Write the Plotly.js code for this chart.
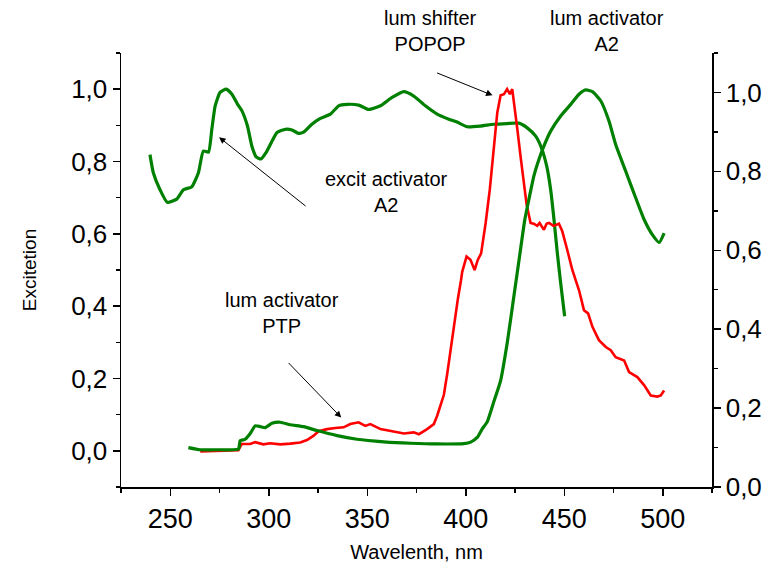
<!DOCTYPE html>
<html>
<head>
<meta charset="utf-8">
<script src="https://cdn.plot.ly/plotly-3.0.1.min.js"></script>
<style>html,body{margin:0;padding:0;background:#fff;}#chart{width:775px;height:570px;}</style>
</head>
<body>
<div id="chart"></div>
<script>
// Excitation spectrum of activator A2 (green, left)
const excitA2X = [239.7,241.4,244.8,248.5,253.3,256.7,260.9,264.3,266.8,269.4,271.1,272.8,275.3,278.4,281.3,284.2,286.4,289.2,291.4,293.6,296.0,299.1,304.2,308.4,311.8,315.1,317.7,321.9,326.2,331.3,335.5,339.7,345.6,350.7,356.7,362.6,368.6,373.6,379.5,385.5,391.4,395.6,400.7,407.5,414.2,421.0,427.0,431.2,435.5,438.4,441.1,443.1,444.8,446.5,448.2,450.2];
const excitA2Y = [0.819,0.769,0.722,0.687,0.696,0.722,0.730,0.769,0.829,0.826,0.889,0.954,0.991,1.0,0.986,0.958,0.940,0.898,0.843,0.813,0.807,0.829,0.880,0.889,0.887,0.878,0.881,0.903,0.919,0.931,0.954,0.958,0.956,0.944,0.954,0.977,0.993,0.981,0.954,0.931,0.917,0.909,0.896,0.898,0.903,0.905,0.906,0.893,0.870,0.838,0.787,0.722,0.639,0.546,0.463,0.372];

// Luminescence of activator A2 (green, right)
const lumA2X = [259.2,265.2,275.3,284.6,285.5,288.0,290.6,293.1,295.7,298.2,301.6,305.8,310.9,317.7,324.5,334.7,344.8,358.4,372.0,385.5,399.0,402.5,405.8,408.3,410.9,414.2,417.7,421.1,424.5,427.5,430.0,432.0,434.6,436.5,439.7,443.1,448.2,453.3,457.5,460.9,464.3,468.5,472.7,476.1,481.2,486.3,490.6,494.8,498.2,500.7];
const lumA2Y = [0.009,0.003,0.003,0.005,0.028,0.032,0.048,0.069,0.067,0.064,0.076,0.079,0.072,0.067,0.056,0.042,0.032,0.025,0.021,0.019,0.020,0.024,0.037,0.060,0.080,0.135,0.194,0.300,0.430,0.545,0.640,0.694,0.760,0.795,0.843,0.884,0.926,0.958,0.986,0.998,0.993,0.968,0.912,0.847,0.773,0.699,0.639,0.597,0.576,0.602];

// Luminescence PTP + shifter POPOP (red)
const lumPopopX = [265.2,275.3,284.6,286.3,290.6,293.1,297.3,300.7,305.8,310.9,316.0,319.4,322.8,325.3,329.6,333.8,338.0,341.4,345.6,349.0,351.6,356.7,361.8,368.6,373.6,376.2,380.4,383.8,385.5,387.2,388.9,390.6,392.3,394.4,396.0,397.6,398.2,400.4,402.4,404.5,406.1,407.8,410.1,412.2,414.2,416.0,417.7,419.4,421.0,422.4,423.6,424.8,426.2,427.8,429.5,430.9,432.9,434.5,436.3,437.5,439.7,441.0,442.3,444.5,447.3,449.0,451.5,454.1,457.5,460.0,462.1,464.3,467.6,471.1,473.6,476.1,480.4,482.9,487.1,490.6,493.9,497.3,499.0,500.7];
const lumPopopY = [-0.002,0.000,0.002,0.019,0.019,0.024,0.018,0.021,0.018,0.020,0.023,0.030,0.042,0.054,0.060,0.063,0.065,0.074,0.079,0.069,0.074,0.060,0.054,0.048,0.051,0.046,0.060,0.074,0.097,0.125,0.155,0.213,0.280,0.360,0.420,0.472,0.495,0.537,0.528,0.500,0.528,0.546,0.630,0.722,0.833,0.935,0.983,0.986,1.0,0.986,1.0,0.954,0.889,0.815,0.741,0.681,0.630,0.628,0.622,0.630,0.611,0.628,0.630,0.622,0.628,0.607,0.556,0.500,0.444,0.389,0.380,0.343,0.306,0.287,0.278,0.259,0.250,0.218,0.204,0.181,0.153,0.150,0.153,0.167];

const xTicks = [250,300,350,400,450,500];
const yTicks = [0,0.2,0.4,0.6,0.8,1.0];

const FONT = 'Liberation Sans, Arial, sans-serif';
const GREEN = '#008000';
const RED = '#ff0000';

const traces = [
  {x: excitA2X, y: excitA2Y, mode: 'lines', line: {color: GREEN, width: 3.2, shape: 'spline', smoothing: 0.5}, name: 'excit activator A2'},
  {x: lumPopopX, y: lumPopopY, mode: 'lines', line: {color: RED, width: 2.6}, name: 'lum PTP / POPOP'},
  {x: lumA2X, y: lumA2Y, mode: 'lines', line: {color: GREEN, width: 3.2, shape: 'spline', smoothing: 0.5}, name: 'lum activator A2'},
  {x: [], y: [], yaxis: 'y2', mode: 'lines', showlegend: false, hoverinfo: 'skip'}
];

const annFont = {family: FONT, size: 20, color: '#000'};
const layout = {
  width: 775, height: 570,
  margin: {l: 121, r: 63, t: 53, b: 83},
  paper_bgcolor: '#fff', plot_bgcolor: '#fff',
  showlegend: false,
  separators: ',.',
  font: {family: FONT, color: '#000'},
  xaxis: {
    range: [225, 525], tickvals: xTicks, ticks: 'outside', ticklen: 7, tickwidth: 1.5,
    tickcolor: '#000', showline: true, linecolor: '#000', linewidth: 1.5, showgrid: false, zeroline: false,
    tickfont: {family: FONT, size: 27, color: '#000'},
    minor: {dtick: 25, tick0: 0, ticks: 'outside', ticklen: 4, tickwidth: 1.5, tickcolor: '#000', showgrid: false},
    title: {text: 'Wavelenth, nm', font: {family: FONT, size: 20, color: '#000'}, standoff: 12}
  },
  yaxis: {
    range: [-0.1, 1.1], tickvals: yTicks, tickformat: '.1f', ticks: 'outside', ticklen: 7, tickwidth: 1.5,
    tickcolor: '#000', showline: true, linecolor: '#000', linewidth: 1.5, showgrid: false, zeroline: false,
    tickfont: {family: FONT, size: 26, color: '#000'},
    minor: {dtick: 0.1, tick0: 0, ticks: 'outside', ticklen: 4, tickwidth: 1.5, tickcolor: '#000', showgrid: false},
    title: {text: 'Excitetion', font: {family: FONT, size: 19, color: '#000'}, standoff: 29}
  },
  yaxis2: {
    overlaying: 'y', side: 'right', range: [0, 1.1], tickvals: yTicks, tickformat: '.1f',
    ticks: 'outside', ticklen: 7, tickwidth: 1.5, tickcolor: '#000',
    showline: true, linecolor: '#000', linewidth: 1.5, showgrid: false, zeroline: false,
    tickfont: {family: FONT, size: 26, color: '#000'},
    minor: {dtick: 0.1, tick0: 0, ticks: 'outside', ticklen: 4, tickwidth: 1.5, tickcolor: '#000', showgrid: false}
  },
  annotations: [
    {x: 274.8, y: 0.867, ax: 88, ay: 70, showarrow: true, arrowhead: 2, arrowsize: 1.3, arrowwidth: 1, arrowcolor: '#000', text: ''},
    {x: 336.8, y: 0.092, ax: -54, ay: -56, showarrow: true, arrowhead: 2, arrowsize: 1.3, arrowwidth: 1, arrowcolor: '#000', text: ''},
    {x: 413.6, y: 0.983, ax: -57, ay: -23, showarrow: true, arrowhead: 2, arrowsize: 1.3, arrowwidth: 1, arrowcolor: '#000', text: ''},
    {x: 382.1, y: 1.051, yref: 'paper', text: 'lum shifter<br>POPOP', showarrow: false, font: annFont, xanchor: 'center', yanchor: 'middle'},
    {x: 471.6, y: 1.051, yref: 'paper', text: 'lum activator<br>A2', showarrow: false, font: annFont, xanchor: 'center', yanchor: 'middle'},
    {x: 359.7, y: 0.717, text: 'excit activator<br>A2', showarrow: false, font: annFont, xanchor: 'center', yanchor: 'middle'},
    {x: 306.9, y: 0.381, text: 'lum activator<br>PTP', showarrow: false, font: annFont, xanchor: 'center', yanchor: 'middle'}
  ]
};

Plotly.newPlot('chart', traces, layout, {displayModeBar: false, staticPlot: true});
</script>
</body>
</html>
